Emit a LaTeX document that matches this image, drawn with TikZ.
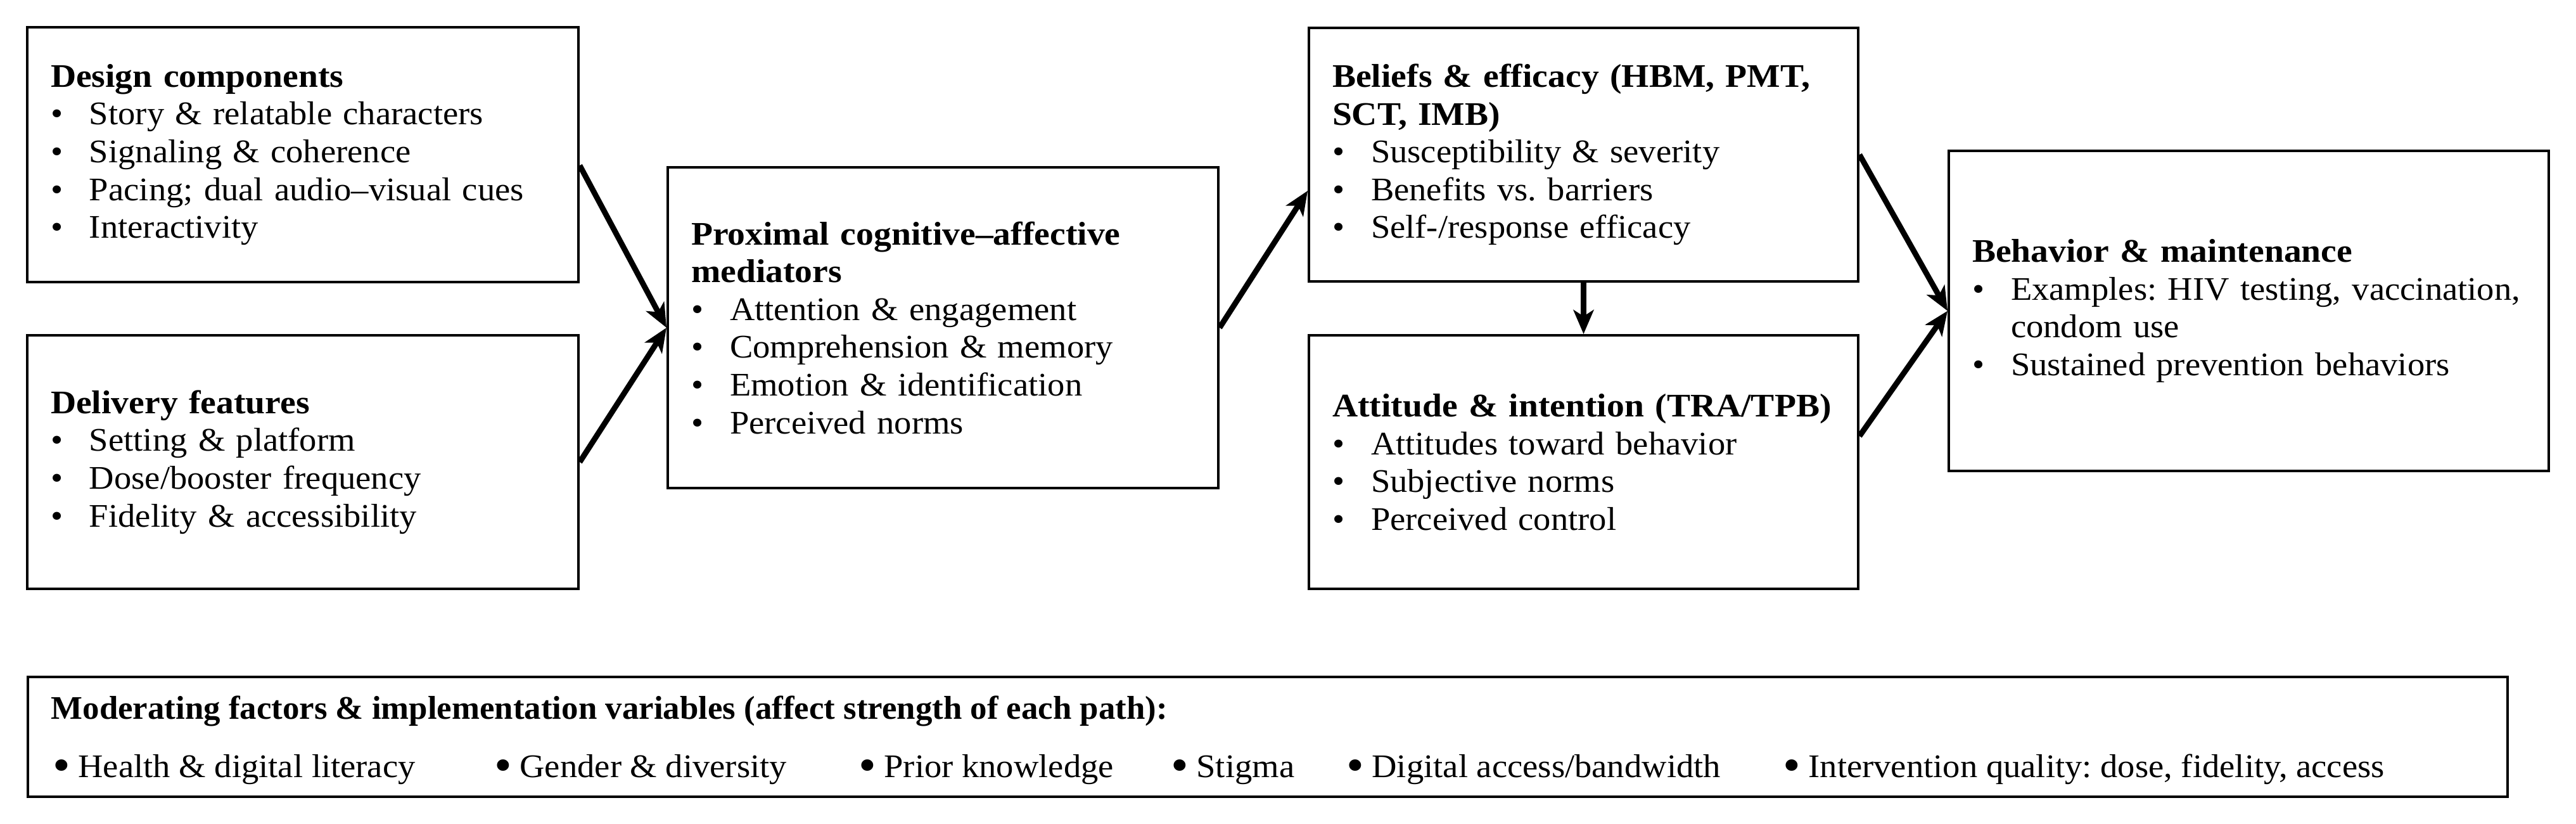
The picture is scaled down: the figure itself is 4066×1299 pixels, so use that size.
\documentclass[tikz,border=0pt]{standalone}
\usepackage{fontspec}
\usepackage{graphicx}
\setmainfont{Liberation Serif}[FakeStretch=1.05, BoldFeatures={FakeStretch=1.07}]
\usetikzlibrary{arrows.meta,calc}
\frenchspacing
\newcommand\bitem[1]{\mbox{\makebox[15.25pt][l]{\textbullet}#1}}
\newcommand\bigbul{\raisebox{-1.6pt}{\scalebox{1.45}{\textbullet}}}
\tikzset{
  blk/.style={draw, line width=1pt, inner xsep=9.25pt, inner ysep=0pt, align=left,
    font=\fontsize{13}{14.9}\selectfont\frenchspacing},
  modbox/.style={draw, line width=1.2pt, inner sep=0pt},
  modtxt/.style={anchor=base west, inner sep=0pt, font=\fontsize{13}{14.9}\selectfont\frenchspacing},
  arr/.style={line width=2.2pt, -{Stealth[length=9.5pt,width=8pt,inset=2.5pt]}},
}
\begin{document}
\begin{tikzpicture}[x=0.25pt,y=-0.25pt]
\useasboundingbox (0,0) rectangle (4066,1299);
\fill[white] (0,0) rectangle (4066,1299);

\node[blk, minimum width=217.5pt, minimum height=100.5pt, text width=199pt] (design) at (478,244)
 {\textbf{Design components}\\
  \bitem{Story \& relatable characters}\\
  \bitem{Signaling \& coherence}\\
  \bitem{Pacing; dual audio–visual cues}\\
  \bitem{Interactivity}};

\node[blk, minimum width=217.5pt, minimum height=100pt, text width=199pt] (delivery) at (478,729)
 {\textbf{Delivery features}\\
  \bitem{Setting \& platform}\\
  \bitem{Dose/booster frequency}\\
  \bitem{Fidelity \& accessibility}};

\node[blk, minimum width=217.25pt, minimum height=126.5pt, text width=198.75pt] (prox) at (1488.5,517)
 {\textbf{Proximal cognitive–affective}\\
  \textbf{mediators}\\
  \bitem{Attention \& engagement}\\
  \bitem{Comprehension \& memory}\\
  \bitem{Emotion \& identification}\\
  \bitem{Perceived norms}};

\node[blk, minimum width=216.75pt, minimum height=100pt, text width=198.25pt] (beliefs) at (2499.5,244)
 {\textbf{Beliefs \& efficacy (HBM, PMT,}\\
  \textbf{SCT, IMB)}\\
  \bitem{Susceptibility \& severity}\\
  \bitem{Benefits vs. barriers}\\
  \bitem{Self-/response efficacy}};

\node[blk, minimum width=216.75pt, minimum height=100pt, text width=198.25pt] (attitude) at (2499.5,729)
 {\textbf{Attitude \& intention (TRA/TPB)}\\
  \bitem{Attitudes toward behavior}\\
  \bitem{Subjective norms}\\
  \bitem{Perceived control}};

\node[blk, minimum width=236.75pt, minimum height=126.25pt, text width=218.25pt] (behavior) at (3549.5,490.5)
 {\textbf{Behavior \& maintenance}\\
  \bitem{Examples: HIV testing, vaccination,}\\
  \mbox{\hspace*{15.25pt}condom use}\\
  \bitem{Sustained prevention behaviors}};

\node[modbox, minimum width=978.5pt, minimum height=47.25pt] (mod) at (2001,1162.5) {};
\node[modtxt] (modtitle) at (80,1134)
 {\scalebox{0.95}[1]{\textbf{Moderating factors \& implementation variables (affect strength of each path):}}};
\node[modtxt] (m1) at (83,1226) {\bigbul\hspace{3pt}Health \& digital literacy};
\node[modtxt] (m2) at (780,1226) {\bigbul\hspace{3pt}Gender \& diversity};
\node[modtxt] (m3) at (1355,1226) {\bigbul\hspace{3pt}Prior knowledge};
\node[modtxt] (m4) at (1848,1226) {\bigbul\hspace{3pt}Stigma};
\node[modtxt] (m5) at (2125,1226) {\bigbul\hspace{3pt}Digital access/bandwidth};
\node[modtxt] (m6) at (2814,1226) {\bigbul\hspace{3pt}Intervention quality: dose, fidelity, access};

\draw[arr] ($(design.east)+(0,17)$) -- (prox.west);
\draw[arr] (delivery.east) -- (prox.west);
\draw[arr] (prox.east) -- ($(beliefs.west)+(0,57)$);
\draw[arr] (beliefs.south) -- (attitude.north);
\draw[arr] (beliefs.east) -- (behavior.west);
\draw[arr] ($(attitude.east)+(0,-41)$) -- (behavior.west);
\end{tikzpicture}
\end{document}
